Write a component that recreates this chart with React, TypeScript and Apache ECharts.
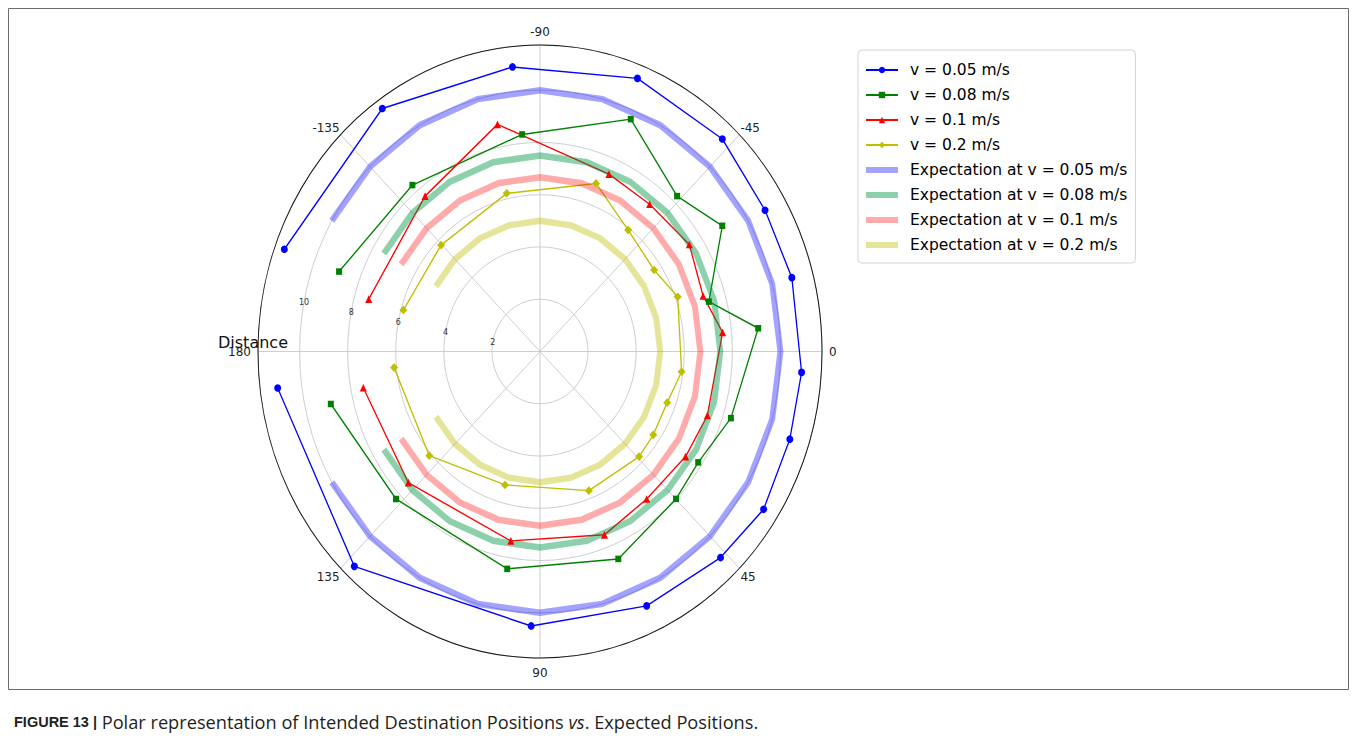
import React, { useEffect, useRef } from "react";
import * as echarts from "echarts";

// ---------- data (radius, angle in degrees; angle clockwise from east) ----------
const MEASURED_NAMES = ["v = 0.05 m/s", "v = 0.08 m/s", "v = 0.1 m/s", "v = 0.2 m/s"];
const EXPECT_NAMES = [
  "Expectation at v = 0.05 m/s",
  "Expectation at v = 0.08 m/s",
  "Expectation at v = 0.1 m/s",
  "Expectation at v = 0.2 m/s",
];

const BLUE_R = [11.33, 11.38, 10.95, 11.21, 11.12, 10.81, 10.85, 10.91, 10.92, 11.09, 10.89, 10.7, 10.51, 11.28, 11.0];
const BLUE_A = [-159.8, -125.2, -96.0, -68.8, -47.0, -30.0, -15.1, 4.2, 17.9, 33.0, 46.4, 65.5, 92.0, 133.2, 172.7];

const GREEN_R = [8.9, 8.29, 8.34, 9.66, 8.24, 8.98, 7.28, 9.12, 8.34, 7.83, 7.99, 8.58, 8.43, 8.23, 8.93];
const GREEN_A = [-159.9, -129.8, -95.1, -67.0, -46.2, -32.4, -15.2, -5.6, 17.8, 32.8, 44.9, 67.7, 99.3, 136.7, 167.0];

const RED_R = [7.4, 7.63, 8.87, 7.37, 7.25, 7.44, 7.11, 7.63, 7.38, 7.27, 7.18, 7.51, 7.35, 7.43, 7.48];
const RED_A = [-164.3, -128.8, -101.5, -67.1, -51.0, -33.4, -17.4, -5.5, 19.4, 33.6, 51.8, 69.1, 99.5, 137.5, 169.3];

const YELLOW_R = [5.9, 5.79, 6.21, 6.84, 5.92, 5.68, 6.1, 5.94, 5.64, 5.69, 5.76, 5.7, 5.31, 6.09, 6.1];
const YELLOW_A = [-164.4, -135.3, -102.9, -70.1, -51.7, -33.3, -20.1, 7.5, 20.3, 34.1, 44.3, 69.1, 105.9, 139.1, 174.2];

const EXPECT_ANGLES = [-150, -135, -120, -105, -90, -75, -60, -45, -30, -15, 0, 15, 30, 45, 60, 75, 90, 105, 120, 135, 150];
const EXPECT_RADII = [10, 7.5, 6.67, 5];

const R_MAX = 11.73;
const R_TICKS = [2, 4, 6, 8, 10];
const CARDINAL_ANGLES = [-180, -90, 0, 90, 180];

// ---------- styles ----------
const COLORS = ["#0000ff", "#008000", "#ff0000", "#bfbf00"];
const SYMBOLS = ["circle", "rect", "triangle", "diamond"];
const SYMBOL_SIZES = [7, 6, 7, 8];
const EXPECT_COLORS = [
  "rgba(0,0,255,0.36)",
  "rgba(0,150,70,0.45)",
  "rgba(255,0,0,0.33)",
  "rgba(191,191,0,0.4)",
];

const CX = 540;
const CY = 351.5;
const RADIUS = 282;
const SCALE_Y = 306.5 / 282;
const FONT = "DejaVu Sans";

const MEASURED = [
  [BLUE_R, BLUE_A],
  [GREEN_R, GREEN_A],
  [RED_R, RED_A],
  [YELLOW_R, YELLOW_A],
];

function polarOption(): echarts.EChartsOption {
  const series: any[] = [];
  MEASURED.forEach(([rs, as], i) => {
    series.push({
      type: "line",
      name: MEASURED_NAMES[i],
      coordinateSystem: "polar",
      polarIndex: 0,
      data: rs.map((r, k) => [r, as[k]]),
      symbol: SYMBOLS[i],
      symbolSize: SYMBOL_SIZES[i],
      itemStyle: { color: COLORS[i] },
      lineStyle: { color: COLORS[i], width: 1.3 },
      silent: true,
    });
  });
  EXPECT_RADII.forEach((r, i) => {
    series.push({
      type: "line",
      name: EXPECT_NAMES[i],
      coordinateSystem: "polar",
      polarIndex: 0,
      data: EXPECT_ANGLES.map((a) => [r, a]),
      symbol: "none",
      lineStyle: { color: EXPECT_COLORS[i], width: 6, cap: "butt", join: "miter" },
      silent: true,
    });
  });

  return {
    animation: false,
    polar: [
      { center: [CX, CY], radius: RADIUS },
      { center: [CX, CY], radius: RADIUS },
    ],
    angleAxis: [
      {
        polarIndex: 0,
        type: "value",
        min: -180,
        max: 180,
        interval: 45,
        startAngle: 180,
        clockwise: true,
        axisLine: { lineStyle: { color: "#1a1a1a", width: 1 } },
        axisTick: { show: false },
        axisLabel: {
          margin: 0,
          color: "#222",
          fontSize: 12,
          fontFamily: FONT,
          formatter: (v: number) => {
            const t = v === -180 ? "180" : String(v);
            return CARDINAL_ANGLES.indexOf(v) >= 0 ? "{c|" + t + "}" : "{d|" + t + "}";
          },
          rich: {
            c: { padding: [7, 7, 7, 7], fontSize: 12, fontFamily: FONT, color: "#222" },
            d: { padding: [1, 1, 1, 1], fontSize: 12, fontFamily: FONT, color: "#222" },
          },
        },
        splitLine: { lineStyle: { color: "#c4c4c4", width: 0.8 } },
      },
      {
        polarIndex: 1,
        type: "value",
        min: 0,
        max: 360,
        startAngle: 169,
        show: false,
      },
    ],
    radiusAxis: [
      {
        polarIndex: 0,
        type: "value",
        min: 0,
        max: R_MAX,
        interval: 2,
        axisLine: { show: false },
        axisTick: { show: false },
        axisLabel: { show: false },
        splitLine: { lineStyle: { color: "#c4c4c4", width: 0.8 } },
      },
      {
        polarIndex: 1,
        type: "value",
        min: 0,
        max: R_MAX,
        interval: 2,
        axisLine: { show: false },
        axisTick: { show: false },
        splitLine: { show: false },
        axisLabel: {
          margin: 0,
          align: "center",
          verticalAlign: "middle",
          fontSize: 8,
          fontFamily: FONT,
          color: "#333",
          formatter: (v: number) => (R_TICKS.indexOf(v) >= 0 ? String(v) : ""),
        },
      },
    ],
    series,
  } as any;
}

function overlayOption(): echarts.EChartsOption {
  const legendSeries: any[] = [];
  MEASURED_NAMES.forEach((n, i) => {
    legendSeries.push({
      type: "line",
      name: n,
      data: [],
      symbol: SYMBOLS[i],
      symbolSize: SYMBOL_SIZES[i],
      itemStyle: { color: COLORS[i] },
      lineStyle: { color: COLORS[i], width: 1.3 },
    });
  });
  EXPECT_NAMES.forEach((n, i) => {
    legendSeries.push({
      type: "line",
      name: n,
      data: [],
      symbol: "none",
      itemStyle: { color: EXPECT_COLORS[i], opacity: 0 },
      lineStyle: { color: EXPECT_COLORS[i], width: 6 },
    });
  });

  return {
    animation: false,
    grid: { left: 0, top: 0, width: 10, height: 10, show: false },
    xAxis: { type: "value", show: false },
    yAxis: { type: "value", show: false },
    legend: {
      orient: "vertical",
      left: 858,
      top: 50,
      itemWidth: 32,
      itemHeight: 8,
      itemGap: 9,
      padding: [12, 8, 10, 5],
      borderColor: "#d4d4d4",
      borderWidth: 1,
      borderRadius: 4,
      backgroundColor: "#ffffff",
      selectedMode: false,
      textStyle: {
        fontFamily: FONT,
        fontSize: 15.5,
        color: "#000",
        lineHeight: 14,
        padding: [0, 0, 0, 7],
      },
      data: [
        ...MEASURED_NAMES.map((n) => ({ name: n })),
        ...EXPECT_NAMES.map((n, i) => ({
          name: n,
          itemStyle: { opacity: 0 },
          lineStyle: { color: EXPECT_COLORS[i], width: 6 },
        })),
      ],
    },
    graphic: [
      {
        type: "rect",
        silent: true,
        shape: { x: 8.5, y: 8.5, width: 1340, height: 681 },
        style: { fill: "none", stroke: "#6b6b6b", lineWidth: 1 },
      },
      {
        type: "text",
        silent: true,
        x: 253,
        y: 342,
        style: {
          text: "Distance",
          fontFamily: FONT,
          fontSize: 16,
          fill: "#111",
          align: "center",
          verticalAlign: "middle",
        },
      },
      {
        type: "text",
        silent: true,
        x: 14,
        y: 722,
        style: {
          text: "{b|FIGURE 13 |} Polar representation of Intended Destination Positions {i|vs}. Expected Positions.",
          fontFamily: "Open Sans",
          fontSize: 18.2,
          fill: "#231f20",
          verticalAlign: "middle",
          rich: {
            b: { fontWeight: "bold", fontFamily: "Liberation Sans", fontSize: 14.5, fill: "#231f20" },
            i: { fontStyle: "italic", fontFamily: "Open Sans", fontSize: 18.2, fill: "#231f20" },
          },
        },
      },
    ],
    series: legendSeries,
  } as any;
}

export default function App() {
  const polarRef = useRef<HTMLDivElement>(null);
  const overlayRef = useRef<HTMLDivElement>(null);

  useEffect(() => {
    if (!polarRef.current || !overlayRef.current) return;
    const c1 = echarts.init(polarRef.current, undefined, { renderer: "svg" });
    c1.setOption(polarOption());
    const c2 = echarts.init(overlayRef.current, undefined, { renderer: "svg" });
    c2.setOption(overlayOption());
    return () => {
      c1.dispose();
      c2.dispose();
    };
  }, []);

  return (
    <div style={{ position: "fixed", left: 0, top: 0, width: 1356, height: 744, background: "#fff", overflow: "hidden" }}>
      <div
        ref={polarRef}
        style={{
          position: "absolute",
          left: 0,
          top: 0,
          width: 1356,
          height: 744,
          transform: `scaleY(${SCALE_Y})`,
          transformOrigin: `${CX}px ${CY}px`,
        }}
      />
      <div
        ref={overlayRef}
        style={{ position: "absolute", left: 0, top: 0, width: 1356, height: 744, pointerEvents: "none" }}
      />
    </div>
  );
}
